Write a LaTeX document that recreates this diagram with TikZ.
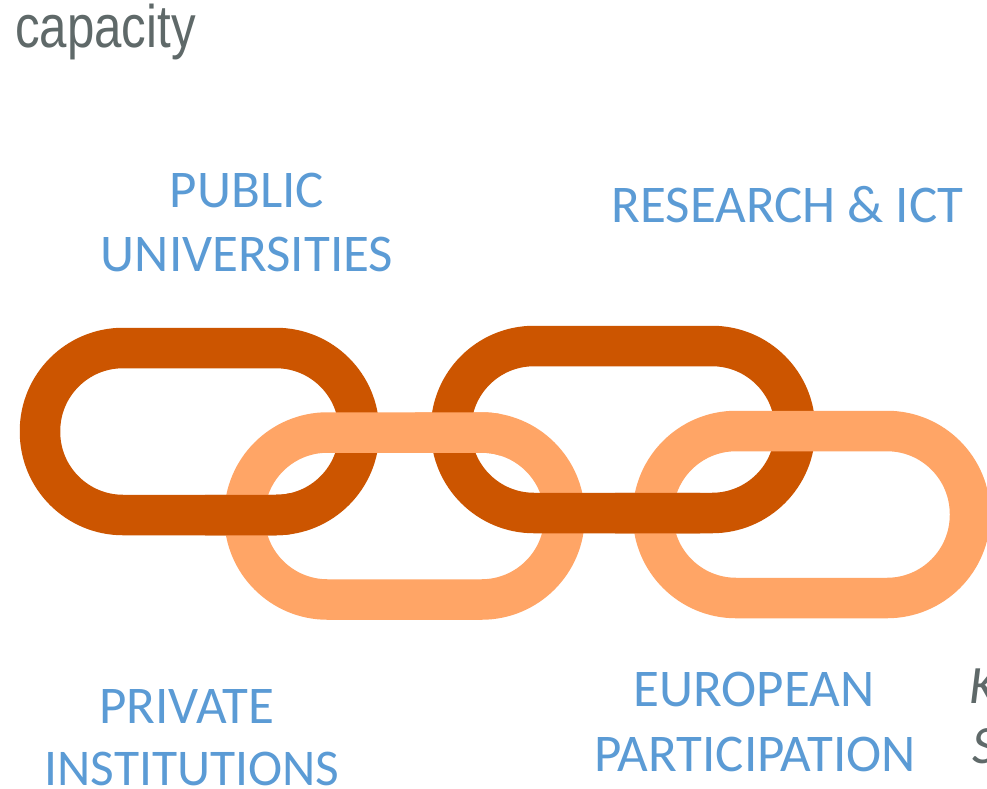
\documentclass[tikz,border=0pt]{standalone}
\usepackage{fontspec}
\newfontfamily\calib{Carlito}
\newfontfamily\capfont{Liberation Sans}
\definecolor{darkor}{HTML}{CC5500}
\definecolor{lightor}{HTML}{FFA566}
\definecolor{bluetxt}{HTML}{5B9BD5}
\definecolor{graytxt}{HTML}{5F6969}
\tikzset{
  linkdark/.style={draw=darkor,line width=40.5pt,rounded corners=83pt},
  linklight/.style={draw=lightor,line width=40.5pt,rounded corners=83pt},
  bluelabel/.style={text=bluetxt,font=\calib\fontsize{53}{60}\selectfont,anchor=base,inner sep=0pt},
  graylabel/.style={text=graytxt,font=\calib\itshape\fontsize{54}{60}\selectfont,anchor=base west,inner sep=0pt}
}
\begin{document}
\begin{tikzpicture}[x=1pt,y=-1pt]
\useasboundingbox (0,0) rectangle (987,788);
\clip (0,0) rectangle (987,788);
\fill[white] (0,0) rectangle (987,788);
% link 1 (dark)
\draw[linkdark] (40,348) rectangle (359,515);
% link 2 (light)
\draw[linklight] (244.5,432.5) rectangle (564.5,599.5);
% link 1 over link 2 at bottom-left
\begin{scope}
\clip (205,490) rectangle (290,545);
\draw[linkdark] (40,348) rectangle (359,515);
\end{scope}
% link 3 (dark)
\draw[linkdark] (451,346) rectangle (795,513);
% link 2 over link 3 at top-left of link 3
\begin{scope}
\clip (415,400) rectangle (500,465);
\draw[linklight] (244.5,432.5) rectangle (564.5,599.5);
\end{scope}
% link 4 (light)
\draw[linklight] (653,431) rectangle (970,598);
% link 3 over link 4 at bottom-left of link 4
\begin{scope}
\clip (615,485) rectangle (700,545);
\draw[linkdark] (451,346) rectangle (795,513);
\end{scope}
% texts
\node[text=graytxt,anchor=base west,inner sep=0pt,font=\capfont\fontsize{60}{66}\selectfont] (cap) at (15,47) {\scalebox{0.82}[1]{capacity}};
\node[bluelabel] (pub1) at (247,207) {PUBLIC};
\node[bluelabel] (pub2) at (247,271) {UNIVERSITIES};
\node[bluelabel] (res) at (787.5,222) {RESEARCH \& ICT};
\node[bluelabel] (pri1) at (187,723) {PRIVATE};
\node[bluelabel,font=\calib\fontsize{51.5}{60}\selectfont] (pri2) at (192,785) {INSTITUTIONS};
\node[bluelabel] (eur1) at (754,706) {EUROPEAN};
\node[bluelabel] (eur2) at (755,771) {PARTICIPATION};
\node[graylabel] (k) at (969,703) {K};
\node[graylabel] (s) at (972,763) {S};
\end{tikzpicture}
\end{document}
